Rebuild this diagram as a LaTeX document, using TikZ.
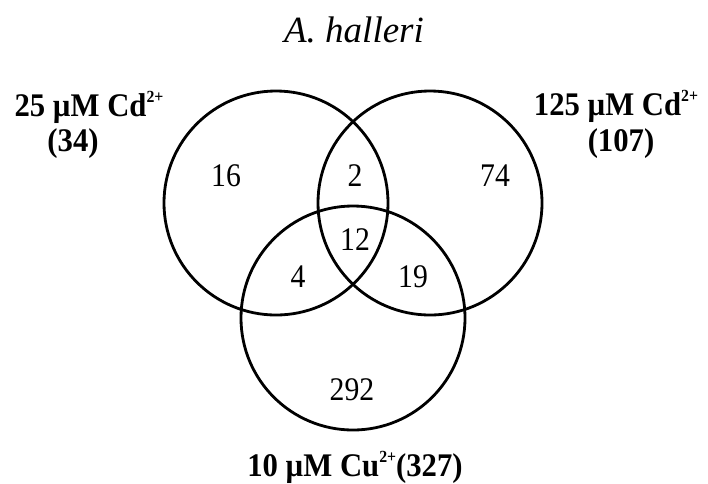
\documentclass[tikz,border=0pt]{standalone}
\usepackage{fontspec}
\setmainfont{Liberation Serif}
\newcommand{\supx}[1]{\raisebox{0.42em}{\fontsize{17}{17}\selectfont #1}}
\begin{document}
\begin{tikzpicture}[x=1pt,y=-1pt,
  venn/.style={draw=black,line width=2.8pt},
  num/.style={font=\fontsize{33}{33}\selectfont,inner sep=0pt,xscale=0.9},
  lab/.style={font=\fontsize{33}{33}\selectfont\bfseries,inner sep=0pt,anchor=base,xscale=0.93}]
\useasboundingbox (0,0) rectangle (708,483);
\fill[white] (0,0) rectangle (708,483);
\node[font=\fontsize{37}{37}\selectfont\itshape,inner sep=0pt,anchor=base] (title) at (354,42) {A. halleri};
\draw[venn] (276,203) circle (112);
\draw[venn] (430,203) circle (112);
\draw[venn] (353,318) circle (112);
\node[num] (n16) at (226,176) {16};
\node[num] (n2) at (355,176) {2};
\node[num] (n74) at (495,176) {74};
\node[num] (n12) at (355,240) {12};
\node[num] (n4) at (298,277) {4};
\node[num] (n19) at (413,277) {19};
\node[num] (n292) at (352,390) {292};
\node[lab] (la) at (89,116) {25 µM Cd\supx{2+}};
\node[lab] (lb) at (73,151) {(34)};
\node[lab] (ra) at (616,115) {125 µM Cd\supx{2+}};
\node[lab] (rb) at (621,151) {(107)};
\node[lab] (ba) at (355,476) {10 µM Cu\supx{2+}(327)};
\end{tikzpicture}
\end{document}
